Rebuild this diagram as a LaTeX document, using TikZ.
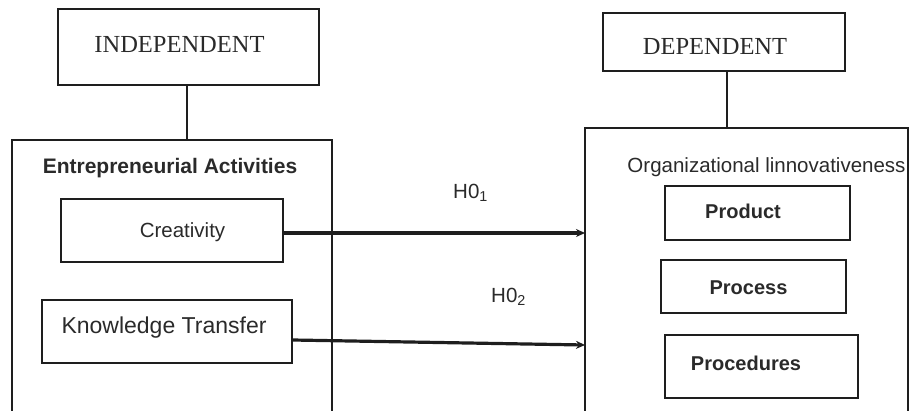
\documentclass[tikz,border=0pt]{standalone}
\usepackage{fontspec}
\setmainfont{Liberation Serif}
\setsansfont{Liberation Sans}
\usetikzlibrary{arrows.meta}
\definecolor{ink}{HTML}{1E1E1E}
\definecolor{txt}{HTML}{2A2A2A}
\tikzset{
  box/.style={draw=ink, line width=1.3pt, rectangle, inner sep=0pt},
  sanslbl/.style={anchor=base, text=txt, font=\sffamily\fontsize{20.5}{24}\selectfont, inner sep=0pt},
  boldlbl/.style={sanslbl, font=\sffamily\bfseries\fontsize{20}{24}\selectfont},
  seriflbl/.style={anchor=base, text=txt, font=\rmfamily\fontsize{24.5}{28}\selectfont, inner sep=0pt},
  link/.style={draw=ink, line width=1.3pt},
  hyp/.style={draw=ink, line width=3.2pt, -{Stealth[length=9pt,width=8pt]}}
}
\begin{document}
\begin{tikzpicture}[x=1pt,y=-1pt]
\useasboundingbox (0,0) rectangle (911,410);
\clip (0,0) rectangle (911,410);
% boxes
\node[box, minimum width=261pt, minimum height=76pt] (indep) at (188.5,47) {};
\node[box, minimum width=320pt, minimum height=280pt] (ent) at (172,280) {};
\node[box, minimum width=222pt, minimum height=63pt] (cre) at (172,230.5) {};
\node[box, minimum width=250pt, minimum height=63pt] (kt) at (167,331.5) {};
\node[box, minimum width=242pt, minimum height=58pt] (dep) at (724,42) {};
\node[box, minimum width=323pt, minimum height=292pt] (org) at (746.5,274) {};
\node[box, minimum width=185pt, minimum height=54pt] (prod) at (757.5,213) {};
\node[box, minimum width=185pt, minimum height=53pt] (proc) at (753.5,286.5) {};
\node[box, minimum width=193pt, minimum height=63pt] (pced) at (761.5,366.5) {};
% texts
\node[seriflbl] (indepT) at (179.5,52) {INDEPENDENT};
\node[seriflbl] (depT) at (715,54) {DEPENDENT};
\node[boldlbl, font=\sffamily\bfseries\fontsize{21}{24}\selectfont] (entT) at (170,173) {Entrepreneurial Activities};
\node[sanslbl] (creT) at (182.5,237) {Creativity};
\node[sanslbl, font=\sffamily\fontsize{23}{26}\selectfont] (ktT) at (164,333) {Knowledge Transfer};
\node[sanslbl] (orgT) at (766.5,172) {Organizational linnovativeness};
\node[boldlbl] (prodT) at (743,218) {Product};
\node[boldlbl] (procT) at (748.5,294) {Process};
\node[boldlbl] (pcedT) at (746,370) {Procedures};
\node[sanslbl, anchor=base west] (h1) at (453,198) {H0\textsubscript{1}};
\node[sanslbl, anchor=base west] (h2) at (491,302) {H0\textsubscript{2}};
% connectors
\draw[link] ([xshift=-1.5pt]indep.south) -- ([xshift=-1.5pt]indep.south |- ent.north);
\draw[link] ([xshift=3pt]dep.south) -- ([xshift=3pt]dep.south |- org.north);
\coordinate (a1end) at (585,233);
\coordinate (a2end) at (585,345);
\draw[hyp] ([yshift=-2.5pt]cre.east) -- (a1end);
\draw[hyp] ([yshift=-8.5pt]kt.east) -- (a2end);
\end{tikzpicture}
\end{document}
